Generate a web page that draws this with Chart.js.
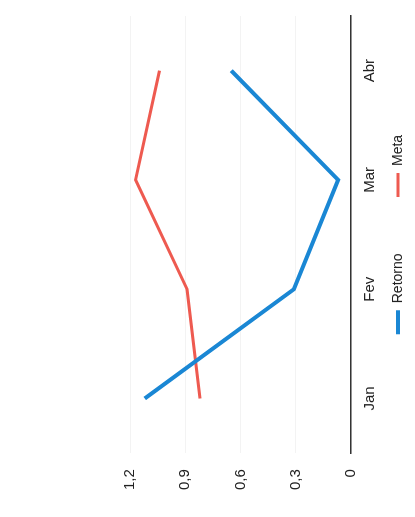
<!DOCTYPE html>
<html>
<head>
<meta charset="utf-8">
<script src="https://cdn.jsdelivr.net/npm/chart.js@4.4.1/dist/chart.umd.min.js"></script>
<style>
  html, body { margin: 0; padding: 0; background: #fff; overflow: hidden; }
  /* chart drawn landscape, then turned a quarter to the left like the scan */
  #wrap {
    position: absolute;
    left: 0;
    top: 517px;
    width: 517px;
    height: 415px;
    transform-origin: 0 0;
    transform: rotate(-90deg);
  }
</style>
</head>
<body>
<div id="wrap"><canvas id="chart" width="517" height="415"></canvas></div>
<script>
const months = ["Jan", "Fev", "Mar", "Abr"];
const retorno = [1.12, 0.31, 0.07, 0.65];
const meta = [0.82, 0.89, 1.17, 1.04];
const y_ticks = [0, 0.3, 0.6, 0.9, 1.2];

function fmt_br(v) {
  return v.toFixed(1).replace(".", ",").replace(/^0,0$/, "0");
}

const ctx = document.getElementById("chart").getContext("2d");
new Chart(ctx, {
  type: "line",
  data: {
    labels: months,
    datasets: [
      {
        label: "Retorno",
        data: retorno,
        borderColor: "#1a87d4",
        backgroundColor: "#1a87d4",
        borderWidth: 4,
        pointRadius: 0,
        tension: 0,
      },
      {
        label: "Meta",
        data: meta,
        borderColor: "#ee5a50",
        backgroundColor: "#ee5a50",
        borderWidth: 3,
        pointRadius: 0,
        tension: 0,
      },
    ],
  },
  options: {
    responsive: false,
    animation: false,
    layout: {
      padding: { top: 130, left: 11, right: 16, bottom: 0 },
    },
    plugins: {
      legend: {
        position: "bottom",
        fullSize: false,
        labels: {
          usePointStyle: true,
          pointStyle: "line",
          pointStyleWidth: 24,
          padding: 2,
          color: "#222",
          font: { family: "Liberation Sans, Arial", size: 14 },
          generateLabels: function (chart) {
            // wide gap between the two entries, as in the scan
            const items = Chart.defaults.plugins.legend.labels.generateLabels(chart);
            items.forEach(function (it, i) {
              if (i < items.length - 1) it.text = it.text + "              ";
            });
            return items;
          },
        },
      },
      tooltip: { enabled: false },
    },
    scales: {
      x: {
        offset: true,
        grid: { display: false, drawTicks: false },
        border: { display: true, color: "#333", width: 1.5 },
        ticks: {
          padding: 10,
          color: "#222",
          font: { family: "Liberation Sans, Arial", size: 15 },
        },
      },
      y: {
        min: 0,
        max: 1.2,
        afterBuildTicks: function (axis) {
          axis.ticks = y_ticks.map((v) => ({ value: v }));
        },
        grid: { color: "#f3f3f3", drawTicks: false },
        border: { display: false },
        ticks: {
          padding: 16,
          color: "#222",
          font: { family: "Liberation Sans, Arial", size: 15 },
          callback: function (v) {
            return fmt_br(v);
          },
        },
      },
    },
  },
});
</script>
</body>
</html>
